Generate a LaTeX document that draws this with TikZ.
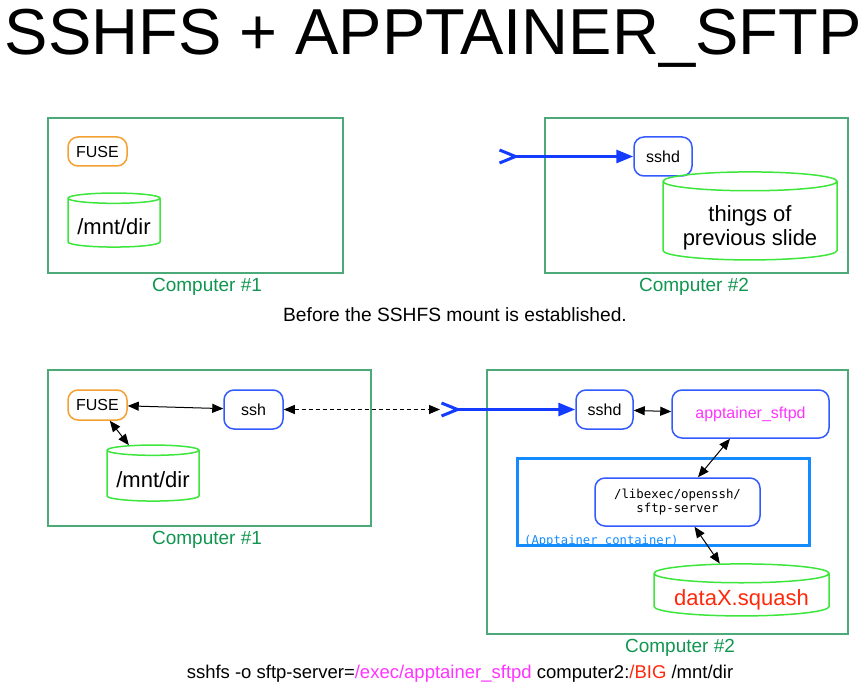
\documentclass[tikz,border=0pt]{standalone}
\usepackage{fontspec}
\setmainfont{Liberation Sans}
\setmonofont{DejaVu Sans Mono}
\usetikzlibrary{arrows.meta,positioning,shapes.geometric}
\definecolor{boxgreen}{RGB}{76,170,120}
\definecolor{labelgreen}{RGB}{16,150,80}
\definecolor{diskgreen}{RGB}{60,230,60}
\definecolor{procblue}{RGB}{50,90,255}
\definecolor{fuseorange}{RGB}{245,160,50}
\definecolor{netblue}{RGB}{20,60,255}
\definecolor{boxblue}{RGB}{20,140,255}
\definecolor{pathpink}{RGB}{255,50,255}
\definecolor{bigred}{RGB}{255,40,10}
% drop the text inside a cylinder without changing its size
\newcommand{\lowered}[2]{\raisebox{-#1}[\height][\depth]{#2}}

\begin{document}
\begin{tikzpicture}[x=1pt,y=-1pt,
  machine/.style={draw=boxgreen,line width=2pt,inner sep=0pt},
  hostlabel/.style={text=labelgreen,font=\fontsize{19}{22}\selectfont},
  proc/.style={draw=procblue,line width=1.5pt,rounded corners=10pt,inner sep=0pt,
    font=\fontsize{16}{19}\selectfont},
  disk/.style={draw=diskgreen,line width=1.5pt,cylinder,shape border rotate=90,
    aspect=0.14,inner sep=0pt,align=center,font=\fontsize{22}{24}\selectfont},
  wire/.style={line width=1pt,>={Triangle[length=11pt,width=9pt]},<->},
  net/.style={draw=netblue,line width=3pt,
    {Straight Barb[reversed,length=16pt,width=13pt]}-{Triangle[length=17pt,width=13pt]}}]
  \useasboundingbox (0,0) rectangle (867,687);

  \node (title) at (433,38) {\fontsize{65}{78}\selectfont SSHFS + APPTAINER\_SFTP};

  % before the mount
  \node[machine,minimum width=295pt,minimum height=155pt] (pc1a) at (195.5,195.5) {};
  \node[machine,minimum width=303pt,minimum height=155pt] (pc2a) at (696.5,195.5) {};
  \node[hostlabel] (lab1a) at (207,287) {Computer \#1};
  \node[hostlabel] (lab2a) at (694,287) {Computer \#2};
  \node[proc,draw=fuseorange,minimum width=59pt,minimum height=29pt] (fuse1) at (97.5,151.5) {FUSE};
  \node[disk,minimum width=92pt,minimum height=54pt] (mnt1) at (114,223) {\lowered{4pt}{/mnt/dir}};
  \node[proc,minimum width=58pt,minimum height=39pt] (sshd1) at (663,156.5) {sshd};
  \node[disk,minimum width=174pt,minimum height=88pt] (things) at (750,221)
    {\lowered{8pt}{\begin{tabular}{@{}c@{}}things of\\previous slide\end{tabular}}};
  \coordinate (in1) at (498,156.5);
  \draw[net] (in1) -- (sshd1);
  \node[font=\fontsize{19.2}{22}\selectfont] (cap1) at (455,315) {Before the SSHFS mount is established.};

  % after the mount
  \node[machine,minimum width=323pt,minimum height=156pt] (pc1b) at (209.5,448) {};
  \node[machine,minimum width=361pt,minimum height=264pt] (pc2b) at (667.5,502) {};
  \node[hostlabel] (lab1b) at (207,540) {Computer \#1};
  \node[hostlabel] (lab2b) at (680,648) {Computer \#2};
  \node[proc,draw=fuseorange,minimum width=59pt,minimum height=30pt] (fuse2) at (97.5,405) {FUSE};
  \node[proc,minimum width=59pt,minimum height=39pt] (ssh) at (253.5,409.5) {ssh};
  \node[disk,minimum width=92pt,minimum height=56pt] (mnt2) at (153,476) {\lowered{4pt}{/mnt/dir}};
  \node[proc,minimum width=57pt,minimum height=39pt] (sshd2) at (604.5,409.5) {sshd};
  \node[proc,text=pathpink,minimum width=157pt,minimum height=48pt] (sftpd) at (750.5,414) {apptainer\_sftpd};
  \node[draw=boxblue,line width=3pt,minimum width=292pt,minimum height=87pt] (box) at (663,501.5) {};
  \node[anchor=base west,text=boxblue,inner sep=0pt,font=\ttfamily\fontsize{12.2}{14}\selectfont]
    (boxlab) at (524,544) {(Apptainer container)};
  \node[proc,align=center,minimum width=165pt,minimum height=48pt,
    font=\ttfamily\fontsize{12.4}{14}\selectfont] (server) at (677.5,502) {/libexec/openssh/\\sftp-server};
  \node[disk,text=bigred,minimum width=175pt,minimum height=52pt] (data) at (741.5,595) {\lowered{5pt}{dataX.squash}};
  \coordinate (in2) at (440,409.5);
  \draw[wire] (fuse2) -- (ssh);
  \draw[wire] (fuse2) -- (mnt2);
  \draw[wire,dash pattern=on 4pt off 3pt] (ssh) -- (in2);
  \draw[net] (in2) -- (sshd2);
  \draw[wire] (sshd2) -- (sftpd);
  \draw[wire] (sftpd) -- (server);
  \draw[wire] (server) -- (data);
  \node[font=\fontsize{18.5}{22}\selectfont] (cap2) at (460,674)
    {sshfs -o sftp-server=\textcolor{pathpink}{/exec/apptainer\_sftpd} computer2:\textcolor{bigred}{/BIG} /mnt/dir};
\end{tikzpicture}
\end{document}
